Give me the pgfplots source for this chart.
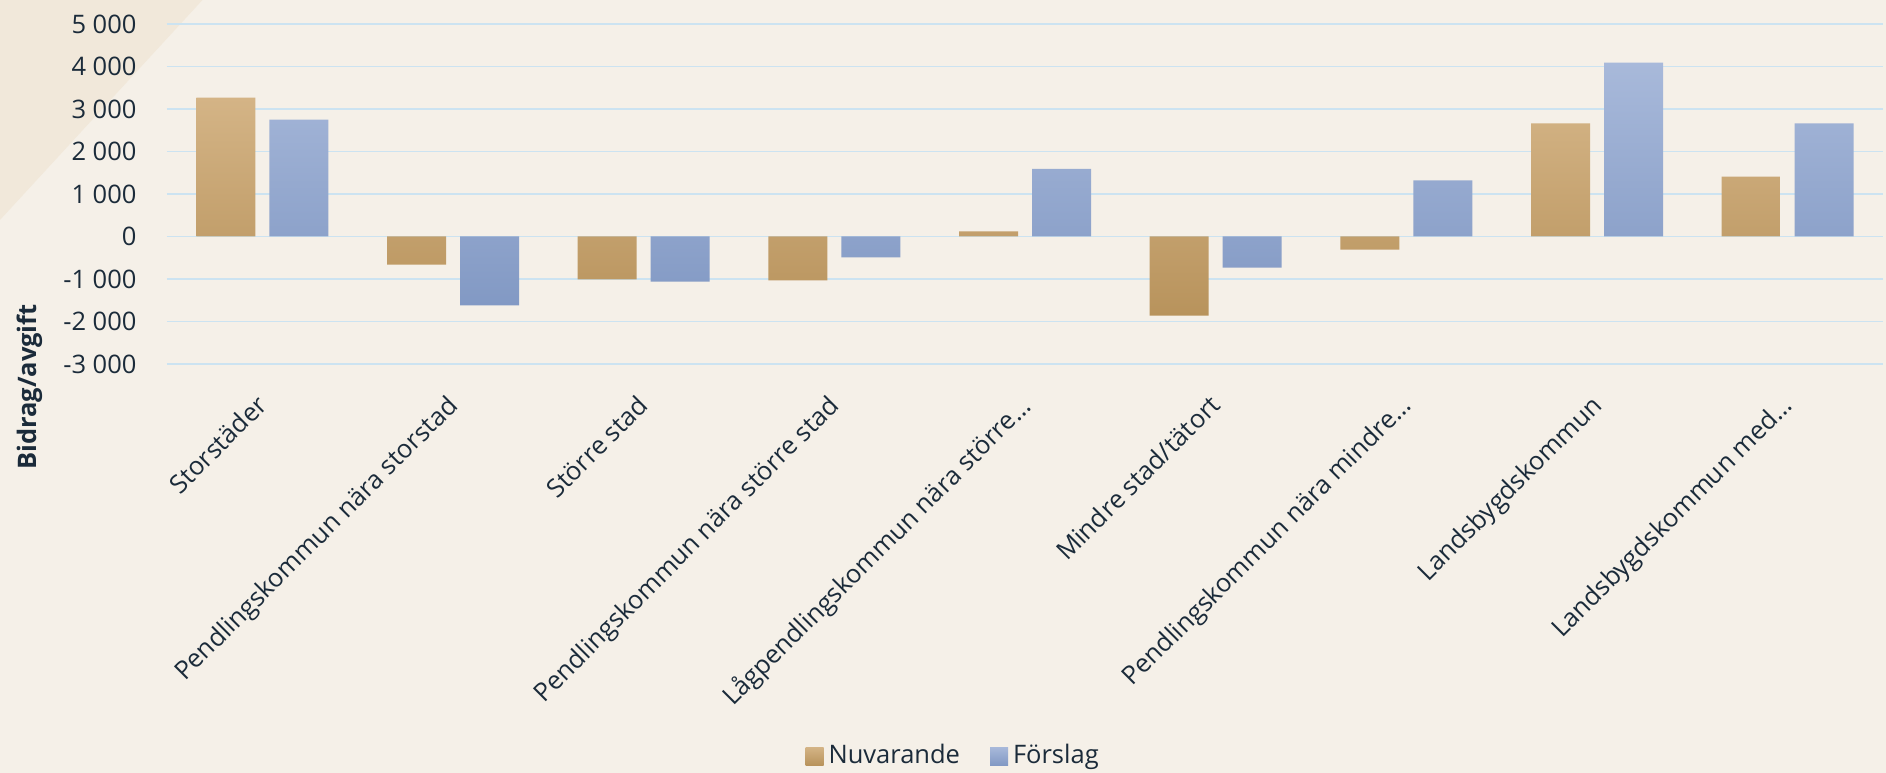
\documentclass[border=0pt]{standalone}
\usepackage{fontspec}
\setmainfont{Open Sans}
\usepackage{pgfplots}
\pgfplotsset{compat=1.18}
\definecolor{bg}{HTML}{F5F0E8}
\definecolor{corner}{HTML}{F1E8DA}
\definecolor{gridcol}{HTML}{CCE3F1}
\definecolor{textcol}{HTML}{1B2B3A}
\definecolor{nuvTop}{HTML}{D4B486}
\definecolor{nuvBot}{HTML}{B8935C}
\definecolor{forTop}{HTML}{A8B9DA}
\definecolor{forBot}{HTML}{8299C4}
\begin{document}
\begin{tikzpicture}
\fill[bg] (0,0) rectangle (754.4pt,309.2pt);
\fill[corner] (0,309.2pt-88pt) -- (0,309.2pt) -- (81pt,309.2pt) -- cycle;
\begin{axis}[
  at={(66.8pt,163.6pt)}, anchor=south west,
  scale only axis, width=686.4pt, height=136pt,
  ybar=5.6pt, bar width=23.6pt,
  enlargelimits=false,
  xmin=-0.5, xmax=8.5, ymin=-3000, ymax=5000,
  xtick={0,...,8},
  xticklabels={Storstäder,Pendlingskommun nära storstad,Större stad,Pendlingskommun nära större stad,Lågpendlingskommun nära större…,Mindre stad/tätort,Pendlingskommun nära mindre…,Landsbygdskommun,Landsbygdskommun med…},
  ytick={-3000,-2000,...,5000},
  yticklabels={-3~000,-2~000,-1~000,0,1~000,2~000,3~000,4~000,5~000},
  ymajorgrids, grid style={gridcol, line width=0.7pt},
  axis line style={draw=none}, major tick length=0pt,
  tick label style={font=\fontsize{10.2}{12}\selectfont, text=textcol},
  xticklabel style={yshift=-11.5pt, xshift=-3pt, rotate=45, anchor=north east, inner sep=0pt},
  yticklabel style={anchor=east, inner sep=0pt, xshift=-12pt},
  ylabel={Bidrag/avgift},
  ylabel style={font=\fontsize{10.2}{12}\selectfont\bfseries, text=textcol, at={(axis description cs:-0.0798,-0.068)}, anchor=center},
  legend style={at={(axis description cs:0.459,-1.153)}, anchor=center, draw=none, fill=none, legend columns=2, font=\fontsize{10.2}{12}\selectfont, text=textcol, /tikz/every even column/.append style={column sep=10pt}},
  legend image code/.code={\path[#1, draw=none] (0pt,-3.6pt) rectangle (7.2pt,3.6pt);},
]
\addplot[draw=none, top color=nuvTop, bottom color=nuvBot] coordinates {
(0,3270) (1,-660) (2,-1010) (3,-1035) (4,120) (5,-1860) (6,-310) (7,2660) (8,1410)};
\addplot[draw=none, top color=forTop, bottom color=forBot] coordinates {
(0,2750) (1,-1620) (2,-1060) (3,-490) (4,1590) (5,-730) (6,1320) (7,4090) (8,2660)};
\legend{Nuvarande,Förslag}
\end{axis}
\pgfresetboundingbox
\path[use as bounding box] (0,0) rectangle (754.4pt,309.2pt);
\end{tikzpicture}
\end{document}
